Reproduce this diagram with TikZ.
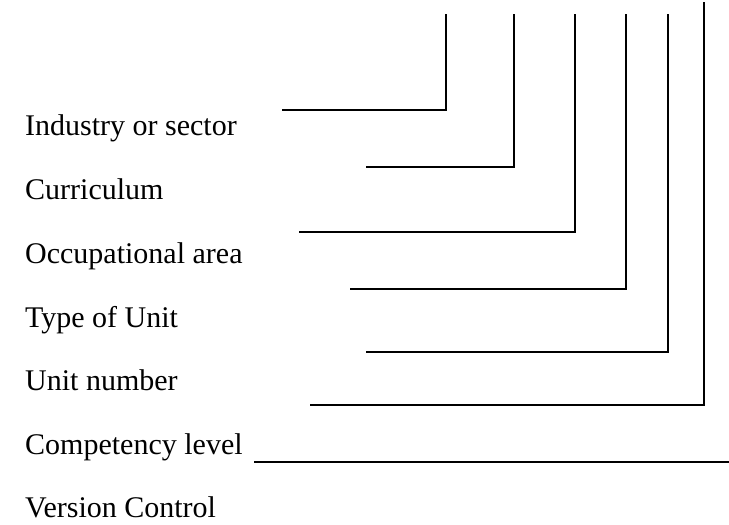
\documentclass[tikz,border=0pt]{standalone}
\usepackage{fontspec}
\setmainfont{Liberation Serif}
\begin{document}
\begin{tikzpicture}[x=1pt,y=-1pt,
  label/.style={anchor=base west,inner sep=0pt,font=\fontsize{30}{36}\selectfont},
  leader/.style={line width=2pt,black}]
\useasboundingbox (0,0) rectangle (729,525);

% field labels
\node[label] (ind) at (25,135) {Industry or sector};
\node[label] (cur) at (25,199) {Curriculum};
\node[label] (occ) at (25,263) {Occupational area};
\node[label] (typ) at (25,327) {Type of Unit};
\node[label] (num) at (25,390) {Unit number};
\node[label] (lvl) at (25,454) {Competency level};
\node[label] (ver) at (25,517) {Version Control};

% leader line end points
\coordinate (t1) at (446,14);  \coordinate (c1) at (446,110); \coordinate (s1) at (282,110);
\coordinate (t2) at (514,14);  \coordinate (c2) at (514,167); \coordinate (s2) at (366,167);
\coordinate (t3) at (575,14);  \coordinate (c3) at (575,232); \coordinate (s3) at (299,232);
\coordinate (t4) at (626,14);  \coordinate (c4) at (626,289); \coordinate (s4) at (350,289);
\coordinate (t5) at (668,14);  \coordinate (c5) at (668,352); \coordinate (s5) at (366,352);
\coordinate (t6) at (704,2);   \coordinate (c6) at (704,405); \coordinate (s6) at (310,405);
\coordinate (s7) at (254,462); \coordinate (e7) at (729,462);

% leader lines
\draw[leader] (t1) -- (c1) -- (s1);
\draw[leader] (t2) -- (c2) -- (s2);
\draw[leader] (t3) -- (c3) -- (s3);
\draw[leader] (t4) -- (c4) -- (s4);
\draw[leader] (t5) -- (c5) -- (s5);
\draw[leader] (t6) -- (c6) -- (s6);
\draw[leader] (s7) -- (e7);
\end{tikzpicture}
\end{document}
